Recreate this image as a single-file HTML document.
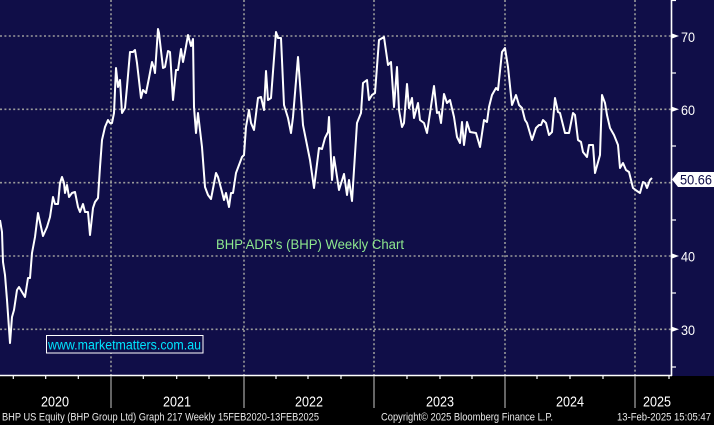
<!DOCTYPE html>
<html><head><meta charset="utf-8"><style>
html,body{margin:0;padding:0;background:#000;}
svg{display:block;}
</style></head><body>
<svg width="714" height="425" viewBox="0 0 714 425" xmlns="http://www.w3.org/2000/svg">
<rect x="0" y="0" width="714" height="425" fill="#000"/>
<rect x="0" y="0" width="714" height="376" fill="#100e48"/>
<g stroke="#9a9a9a" stroke-width="1.6" stroke-dasharray="2,2.4" fill="none">
<line x1="0" y1="36" x2="671" y2="36"/>
<line x1="0" y1="109.3" x2="671" y2="109.3"/>
<line x1="0" y1="182.7" x2="671" y2="182.7"/>
<line x1="0" y1="256" x2="671" y2="256"/>
<line x1="0" y1="329.3" x2="671" y2="329.3"/>
<line x1="111" y1="0" x2="111" y2="375"/>
<line x1="244" y1="0" x2="244" y2="375"/>
<line x1="374" y1="0" x2="374" y2="375"/>
<line x1="505" y1="0" x2="505" y2="375"/>
<line x1="635" y1="0" x2="635" y2="375"/>
</g>
<!-- axes -->
<line x1="671.5" y1="0" x2="671.5" y2="376" stroke="#fff" stroke-width="1.6"/>
<line x1="0" y1="375.5" x2="672" y2="375.5" stroke="#fff" stroke-width="1.4"/>
<g stroke="#fff" stroke-width="1.2">
<line x1="672" y1="73" x2="676" y2="73"/>
<line x1="672" y1="146" x2="676" y2="146"/>
<line x1="672" y1="220" x2="676" y2="220"/>
<line x1="672" y1="293" x2="676" y2="293"/>
<line x1="672" y1="367" x2="676" y2="367"/>
<line x1="672" y1="0.5" x2="676" y2="0.5"/>
</g>
<g fill="#fff">
<polygon points="672,33.5 679,36 672,38.5"/>
<polygon points="672,106.8 679,109.3 672,111.8"/>
<polygon points="672,253.5 679,256 672,258.5"/>
<polygon points="672,326.8 679,329.3 672,331.8"/>
</g>
<g fill="#fff" font-family="Liberation Sans, sans-serif" font-size="14">
<text x="681" y="42" textLength="14" lengthAdjust="spacingAndGlyphs">70</text>
<text x="681" y="115" textLength="14" lengthAdjust="spacingAndGlyphs">60</text>
<text x="681" y="261.7" textLength="14" lengthAdjust="spacingAndGlyphs">40</text>
<text x="681" y="335" textLength="14" lengthAdjust="spacingAndGlyphs">30</text>
</g>
<!-- bottom ticks -->
<g stroke="#fff" stroke-width="1.2">
<line x1="13.3" y1="376" x2="13.3" y2="379"/>
<line x1="45.7" y1="376" x2="45.7" y2="379"/>
<line x1="78.3" y1="376" x2="78.3" y2="379"/>
<line x1="143.3" y1="376" x2="143.3" y2="379"/>
<line x1="176.7" y1="376" x2="176.7" y2="379"/>
<line x1="209" y1="376" x2="209" y2="379"/>
<line x1="276" y1="376" x2="276" y2="379"/>
<line x1="308" y1="376" x2="308" y2="379"/>
<line x1="341" y1="376" x2="341" y2="379"/>
<line x1="407" y1="376" x2="407" y2="379"/>
<line x1="440" y1="376" x2="440" y2="379"/>
<line x1="472" y1="376" x2="472" y2="379"/>
<line x1="537" y1="376" x2="537" y2="379"/>
<line x1="570" y1="376" x2="570" y2="379"/>
<line x1="603" y1="376" x2="603" y2="379"/>
<line x1="669" y1="376" x2="669" y2="379"/>
</g>
<g stroke="#a8a8a8" stroke-width="1.2">
<line x1="111" y1="376" x2="111" y2="408"/>
<line x1="244" y1="376" x2="244" y2="408"/>
<line x1="374" y1="376" x2="374" y2="408"/>
<line x1="505" y1="376" x2="505" y2="408"/>
<line x1="635" y1="376" x2="635" y2="408"/>
</g>
<g fill="#fff" font-family="Liberation Sans, sans-serif" font-size="14.5">
<text x="41" y="406.5" textLength="28" lengthAdjust="spacingAndGlyphs">2020</text>
<text x="163" y="406.5" textLength="28" lengthAdjust="spacingAndGlyphs">2021</text>
<text x="295" y="406.5" textLength="28" lengthAdjust="spacingAndGlyphs">2022</text>
<text x="426" y="406.5" textLength="28" lengthAdjust="spacingAndGlyphs">2023</text>
<text x="556" y="406.5" textLength="28" lengthAdjust="spacingAndGlyphs">2024</text>
<text x="643" y="406.5" textLength="28" lengthAdjust="spacingAndGlyphs">2025</text>
</g>
<g fill="#e8e8e8" font-family="Liberation Sans, sans-serif" font-size="11">
<text x="2" y="420.5" textLength="317" lengthAdjust="spacingAndGlyphs">BHP US Equity (BHP Group Ltd) Graph 217  Weekly 15FEB2020-13FEB2025</text>
<text x="381" y="420.5" textLength="172" lengthAdjust="spacingAndGlyphs">Copyright© 2025 Bloomberg Finance L.P.</text>
<text x="617" y="420.5" textLength="94" lengthAdjust="spacingAndGlyphs">13-Feb-2025 15:05:47</text>
</g>
<!-- price line -->
<polyline fill="none" stroke="#fff" stroke-width="2" stroke-linejoin="round" points="
0,220 2,232 3,262 5,275 7,300 10,343 12,317 14,310 17,290 19,287 22,292 25,297 28,278 30,278 32,253 35,237 38,213 43,236 47,227 50,217 53,197 55,204 58,204 60,183 62,177 64,183 65,193 67,185 69,197 72,193 75,192 78,207 80,212 83,204 85,212 88,212 90,235 93,208 95,202 98,198 100,167 102,140 105,127 108,120 110,123 112,123 114,113 116,68 118,87 120,80 122,113 125,108 127,87 130,52 133,52 135,50 137,63 141,98 143,90 146,93 149,78 152,62 154,68 155,73 158,29 159,33 160,42 163,68 165,67 168,51 170,52 173,100 176,70 178,70 181,49 183,62 185,52 188,35 191,46 193,39 194,107 196,133 198,113 202,147 205,187 208,195 211,199 216,173 218,177 222,192 224,200 226,193 229,207 231,193 233,193 236,173 239,165 242,157 244,155 246,127 249,110 251,123 254,130 258,98 261,97 264,110 266,71 268,100 271,98 276,32 278,38 281,38 284,105 288,118 291,133 293,117 298,57 303,125 310,160 314,188 319,148 322,149 325,138 328,132 329,117 332,180 334,157 339,190 344,174 347,195 349,180 352,201 357,123 361,113 363,83 367,80 369,100 372,95 375,93 379,40 384,37 388,65 391,62 394,107 397,67 399,110 402,127 404,123 407,84 409,108 412,98 414,118 418,103 420,120 424,123 427,133 430,113 434,86 437,113 439,112 441,123 444,94 447,103 450,100 454,117 457,137 460,143 462,122 464,145 467,122 470,132 476,133 480,147 484,120 487,122 489,107 492,95 496,88 498,90 502,52 505,48 508,67 512,105 516,95 519,105 522,108 525,120 527,123 532,140 536,128 539,125 541,125 543,120 546,123 549,135 552,132 555,98 558,112 560,113 565,133 569,133 573,113 575,115 578,140 581,142 583,152 587,157 589,145 593,145 595,173 600,155 602,95 605,103 607,115 610,128 614,135 618,145 620,168 623,163 626,170 629,172 633,188 637,191 640,193 643,182 645,183 647,188 650,180 652,178"/>
<!-- last price label -->
<polygon points="672,179.5 678,172 714,172 714,187 678,187" fill="#fff"/>
<text x="680" y="184.5" fill="#100e48" font-family="Liberation Sans, sans-serif" font-size="13.5" textLength="32" lengthAdjust="spacingAndGlyphs">50.66</text>
<!-- title -->
<text x="216" y="249" fill="#8ee88e" font-family="Liberation Sans, sans-serif" font-size="13.5" textLength="188" lengthAdjust="spacingAndGlyphs">BHP ADR's (BHP) Weekly Chart</text>
<!-- website box -->
<rect x="46.5" y="335.5" width="156.5" height="17.5" fill="#100e48" stroke="#fff" stroke-width="1"/>
<text x="48" y="349.5" fill="#00e5ff" font-family="Liberation Sans, sans-serif" font-size="13.5" textLength="153" lengthAdjust="spacingAndGlyphs">www.marketmatters.com.au</text>
</svg>
</body></html>
